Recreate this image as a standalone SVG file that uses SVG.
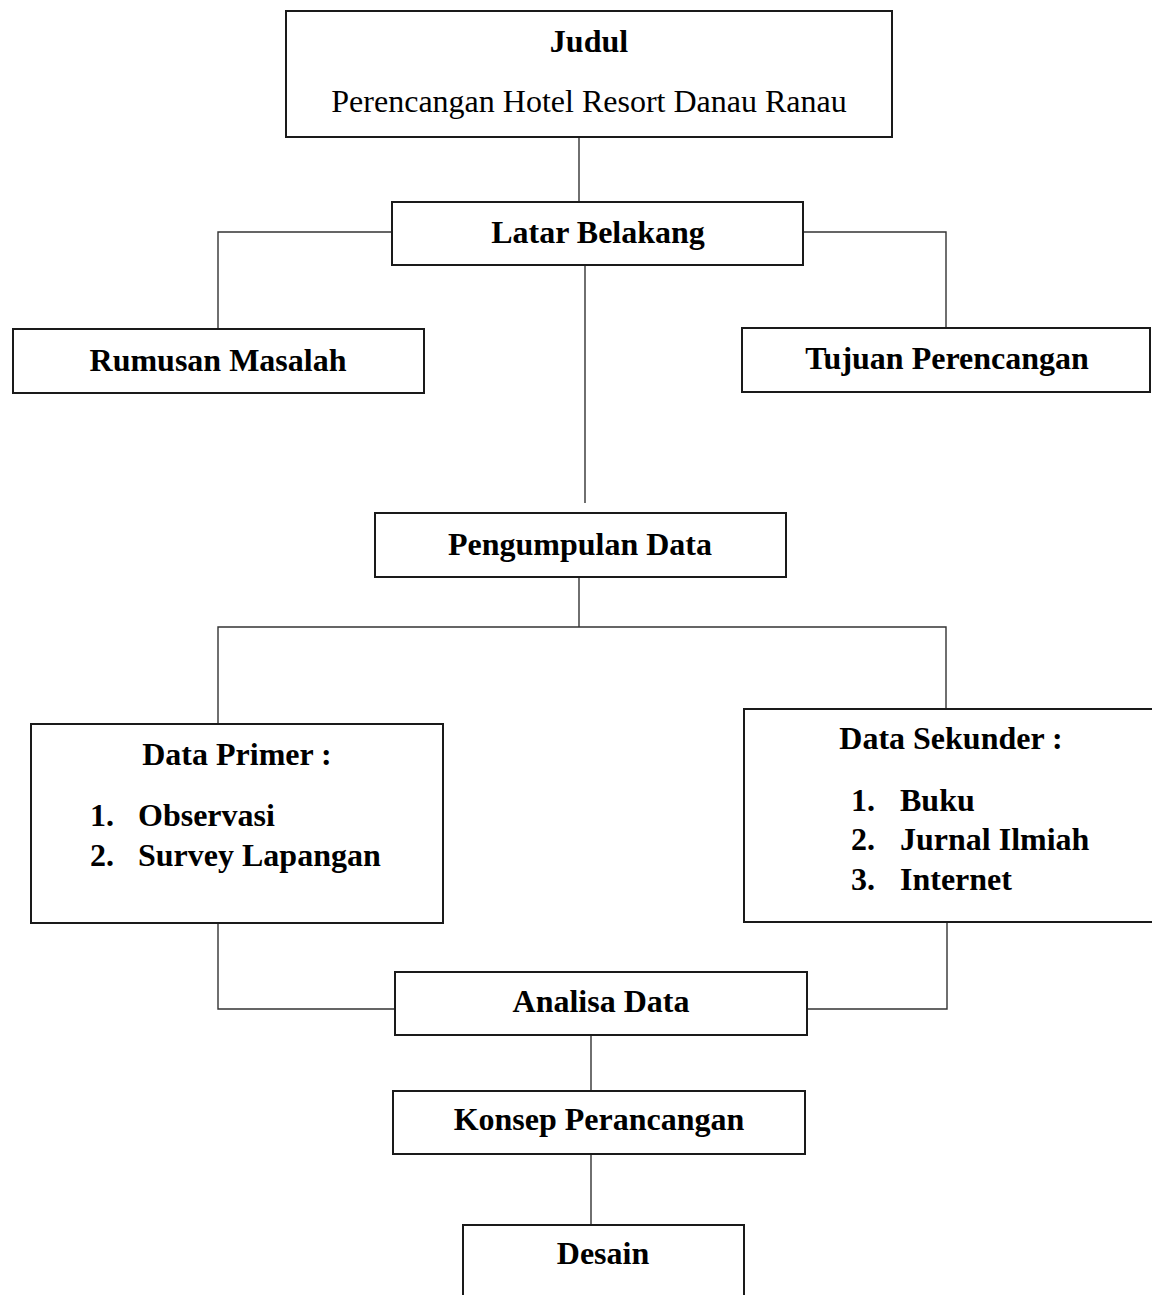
<svg xmlns="http://www.w3.org/2000/svg" width="1152" height="1295" viewBox="0 0 1152 1295">
<style>
.box{fill:#fff;stroke:#1a1a1a;stroke-width:2}
.con{fill:none;stroke:#333;stroke-width:1.4}
.t{font-family:"Liberation Serif","Times New Roman",serif;font-size:32px;fill:#000}
.b{font-weight:bold}
.c{text-anchor:middle}
</style>
<rect width="1152" height="1295" fill="#fff"/>
<g id="connectors">
<path class="con" d="M579,137 V202"/>
<path class="con" d="M392,232 H218 V329"/>
<path class="con" d="M803,232 H946 V328"/>
<path class="con" d="M585,265 V503"/>
<path class="con" d="M579,577 V627"/>
<path class="con" d="M218,724 V627 H946 V709"/>
<path class="con" d="M218,923 V1009 H395"/>
<path class="con" d="M947,922 V1009 H807"/>
<path class="con" d="M591,1035 V1091"/>
<path class="con" d="M591,1154 V1225"/>
</g>
<g id="judul">
<rect class="box" x="286" y="11" width="606" height="126"/>
<text class="t b c" x="589" y="52">Judul</text>
<text class="t c" x="589" y="112">Perencangan Hotel Resort Danau Ranau</text>
</g>
<g id="latar-belakang">
<rect class="box" x="392" y="202" width="411" height="63"/>
<text class="t b c" x="598" y="243">Latar Belakang</text>
</g>
<g id="rumusan-masalah">
<rect class="box" x="13" y="329" width="411" height="64"/>
<text class="t b c" x="218" y="371">Rumusan Masalah</text>
</g>
<g id="tujuan-perencangan">
<rect class="box" x="742" y="328" width="408" height="64"/>
<text class="t b c" x="947" y="369">Tujuan Perencangan</text>
</g>
<g id="pengumpulan-data">
<rect class="box" x="375" y="513" width="411" height="64"/>
<text class="t b c" x="580" y="555">Pengumpulan Data</text>
</g>
<g id="data-primer">
<rect class="box" x="31" y="724" width="412" height="199"/>
<text class="t b c" x="237" y="765">Data Primer :</text>
<text class="t b" x="90" y="826">1.</text>
<text class="t b" x="138" y="826">Observasi</text>
<text class="t b" x="90" y="866">2.</text>
<text class="t b" x="138" y="866">Survey Lapangan</text>
</g>
<g id="data-sekunder">
<rect class="box" x="744" y="709" width="420" height="213"/>
<text class="t b c" x="951" y="749">Data Sekunder :</text>
<text class="t b" x="851" y="811">1.</text>
<text class="t b" x="900" y="811">Buku</text>
<text class="t b" x="851" y="850">2.</text>
<text class="t b" x="900" y="850">Jurnal Ilmiah</text>
<text class="t b" x="851" y="890">3.</text>
<text class="t b" x="900" y="890">Internet</text>
</g>
<g id="analisa-data">
<rect class="box" x="395" y="972" width="412" height="63"/>
<text class="t b c" x="601" y="1012">Analisa Data</text>
</g>
<g id="konsep-perancangan">
<rect class="box" x="393" y="1091" width="412" height="63"/>
<text class="t b c" x="599" y="1130">Konsep Perancangan</text>
</g>
<g id="desain">
<rect class="box" x="463" y="1225" width="281" height="90"/>
<text class="t b c" x="603" y="1264">Desain</text>
</g>
</svg>
